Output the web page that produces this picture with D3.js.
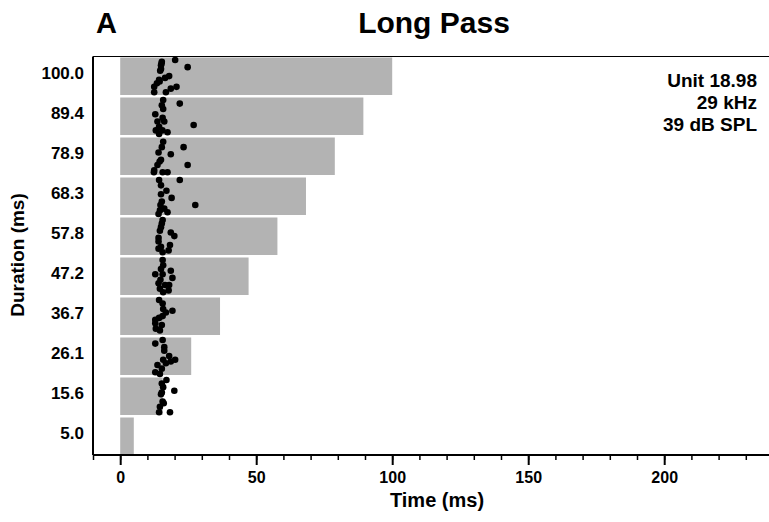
<!DOCTYPE html>
<html>
<head>
<meta charset="utf-8">
<script src="https://cdn.jsdelivr.net/npm/d3@7"></script>
<style>
  body { margin: 0; background: #fff; }
  text { font-family: "Liberation Sans", Arial, sans-serif; font-weight: bold; fill: #000; }
</style>
</head>
<body>
<svg id="chart" width="769" height="522"></svg>
<script>
// Stimulus durations (ms), top row first.
const durations = [100.0, 89.4, 78.9, 68.3, 57.8, 47.2, 36.7, 26.1, 15.6, 5.0];
const durationLabels = ["100.0", "89.4", "78.9", "68.3", "57.8", "47.2", "36.7", "26.1", "15.6", "5.0"];

// Spikes per duration: [time (ms), trial index 0..19].
const spikes100 = [[15.3, 1], [20.2, 0], [24.8, 4], [15.2, 2], [15.0, 3], [15.0, 5], [14.7, 6], [18.0, 9],
  [16.5, 10], [14.3, 11], [14.5, 12], [13.5, 13], [12.5, 15], [20.7, 15], [18.6, 16], [12.5, 18], [16.8, 18]];
const spikes89 = [[15.8, 0], [21.9, 2], [15.3, 3], [15.8, 5], [12.9, 8], [15.6, 10], [13.7, 12], [16.2, 12],
  [27.0, 14], [14.3, 15], [13.1, 17], [15.5, 17], [17.4, 18], [14.3, 19]];
const spikes79 = [[15.8, 1], [15.3, 4], [23.3, 4], [14.1, 7], [18.6, 8], [15.0, 11], [14.5, 12], [13.7, 14],
  [24.8, 14], [12.5, 17], [12.4, 18], [15.6, 18], [17.4, 18]];
const spikes68 = [[14.3, 0], [21.9, 0], [15.0, 3], [17.0, 6], [15.0, 8], [18.9, 10], [15.3, 12], [14.8, 14],
  [27.6, 14], [16.2, 16], [14.6, 17], [17.4, 18], [14.1, 19]];
const spikes58 = [[15.6, 0], [15.3, 2], [15.0, 4], [14.6, 6], [18.6, 7], [19.9, 9], [14.1, 10], [14.1, 12],
  [18.3, 14], [15.0, 15], [14.1, 16], [17.8, 17], [15.6, 18]];
const spikes47 = [[15.6, 0], [15.8, 3], [15.0, 5], [18.6, 6], [12.9, 8], [15.6, 8], [19.2, 10], [14.8, 11],
  [14.1, 13], [16.5, 14], [18.0, 14], [14.6, 16], [17.8, 17], [15.8, 18]];
const spikes37 = [[14.3, 0], [15.6, 2], [15.8, 5], [19.2, 6], [16.8, 7], [15.6, 9], [14.3, 10], [12.9, 11],
  [12.9, 13], [15.3, 14], [13.1, 16], [14.6, 17]];
const spikes26 = [[15.6, 0], [12.9, 2], [16.2, 4], [16.2, 6], [18.0, 9], [15.8, 11], [20.2, 11], [18.6, 12],
  [16.8, 13], [13.7, 14], [15.3, 16], [12.9, 18], [14.6, 19]];
const spikes16 = [[17.0, 0], [15.3, 2], [15.8, 4], [19.9, 6], [15.3, 7], [15.0, 8], [15.6, 12], [16.0, 13],
  [14.6, 15], [14.3, 18], [18.3, 18]];
const spikes5 = [];
const spikeRows = [spikes100, spikes89, spikes79, spikes68, spikes58, spikes47, spikes37, spikes26, spikes16, spikes5];

const xTicks = [0, 50, 100, 150, 200];
const infoLines = ["Unit 18.98", "29 kHz", "39 dB SPL"];

const svg = d3.select("#chart");
const margin = { left: 93, top: 55, bottom: 455 };

// Time scale.
const x = d3.scaleLinear().domain([-10, 240]).range([margin.left, 773]);
// One band per duration.
const y = d3.scaleBand().domain(durations).range([margin.top, margin.bottom]).padding(0);
// Trial position inside a band.
const trialY = d3.scaleLinear().domain([0, 19]).range([5, 39]);

// Grey bars for the stimulus on each row.
svg.append("g").selectAll("rect")
  .data(durations)
  .join("rect")
  .attr("x", x(0))
  .attr("y", d => y(d) + 2.5)
  .attr("width", d => x(d) - x(0))
  .attr("height", y.bandwidth() - 2.5)
  .attr("fill", "#b3b3b3");

// Spikes.
spikeRows.forEach((row, i) => {
  const d = durations[i];
  svg.append("g").selectAll("circle")
    .data(row)
    .join("circle")
    .attr("cx", s => x(s[0]))
    .attr("cy", s => y(d) + trialY(s[1]))
    .attr("r", 3.3)
    .attr("fill", "#000");
});

// Frame lines: top and left.
svg.append("line")
  .attr("x1", margin.left).attr("x2", 769)
  .attr("y1", margin.top + 1.5).attr("y2", margin.top + 1.5)
  .attr("stroke", "#000").attr("stroke-width", 1.2);
svg.append("line")
  .attr("x1", margin.left).attr("x2", margin.left)
  .attr("y1", margin.top + 1.5).attr("y2", margin.bottom)
  .attr("stroke", "#000").attr("stroke-width", 2);

// X axis with minor ticks every 10 ms.
const xAxisMinor = d3.axisBottom(x).tickValues(d3.range(-10, 241, 10)).tickSize(5).tickFormat("");
const xAxisMajor = d3.axisBottom(x).tickValues(xTicks).tickSize(10).tickFormat(d3.format("d"));
const gMinor = svg.append("g").attr("transform", `translate(0,${margin.bottom})`).call(xAxisMinor);
gMinor.select(".domain").attr("stroke-width", 2).attr("d", `M${margin.left},0H769`);
gMinor.selectAll(".tick line").attr("stroke-width", 1.5);
const gMajor = svg.append("g").attr("transform", `translate(0,${margin.bottom})`).call(xAxisMajor);
gMajor.select(".domain").remove();
gMajor.selectAll(".tick line").attr("stroke-width", 2);
gMajor.selectAll(".tick text")
  .attr("y", 17)
  .attr("font-size", 16)
  .attr("font-family", "Liberation Sans, Arial, sans-serif")
  .attr("font-weight", "bold");

// Y labels.
svg.append("g").selectAll("text")
  .data(durations)
  .join("text")
  .attr("x", 84)
  .attr("y", d => y(d) + y.bandwidth() / 2 - 2)
  .attr("dy", "0.35em")
  .attr("text-anchor", "end")
  .attr("font-size", 17)
  .text((d, i) => durationLabels[i]);

// Axis titles.
svg.append("text")
  .attr("transform", `translate(24,${(margin.top + margin.bottom) / 2}) rotate(-90)`)
  .attr("text-anchor", "middle")
  .attr("font-size", 19)
  .text("Duration (ms)");
svg.append("text")
  .attr("x", 437).attr("y", 507)
  .attr("text-anchor", "middle")
  .attr("font-size", 20)
  .text("Time (ms)");

// Titles.
svg.append("text").attr("x", 96).attr("y", 33).attr("font-size", 29).text("A");
svg.append("text").attr("x", 434).attr("y", 33).attr("text-anchor", "middle").attr("font-size", 30).text("Long Pass");

// Unit info.
svg.append("g").selectAll("text")
  .data(infoLines)
  .join("text")
  .attr("x", 757)
  .attr("y", (d, i) => 87 + i * 22)
  .attr("text-anchor", "end")
  .attr("font-size", 19)
  .text(d => d);
</script>
</body>
</html>
